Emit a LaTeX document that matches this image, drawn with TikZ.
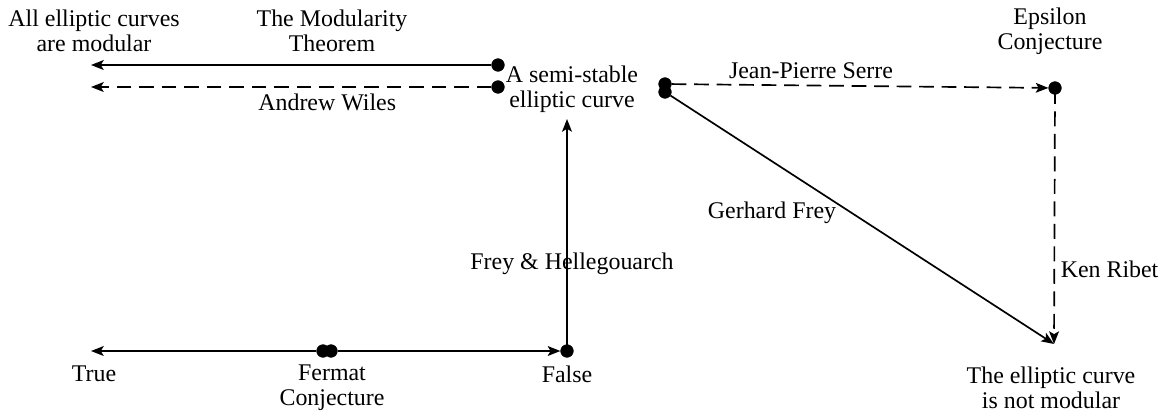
\documentclass[tikz,border=0pt]{standalone}
\usepackage{fontspec}
\setmainfont{Liberation Serif}
\usetikzlibrary{arrows.meta, positioning}
\tikzset{dot/.style={draw=black, fill=black, circle, inner sep=0pt, minimum size=9pt}}
\tikzset{label text/.style={align=center, inner sep=1pt, font=\fontsize{17}{17.8}\selectfont}}
\tikzset{implies/.style={line width=1.2pt, -{Stealth[length=9pt, width=7pt, inset=2pt]}}}
\tikzset{conjectured/.style={implies, dash pattern=on 10.5pt off 5.5pt}}

\begin{document}
\begin{tikzpicture}[x=0.025cm, y=-0.025cm]
\useasboundingbox (0,0) rectangle (1161,416);
% left part
\node[dot] (modthm) at (498,65) {};
\node[dot] (wiles) at (498,87) {};
\coordinate (allsolid) at (91,65);
\coordinate (alldash) at (91,87);
\node[label text] (all) at (94,31) {All elliptic curves\\are modular};
\node[label text] (modname) at (332,31) {The Modularity\\Theorem};
\node[label text] (semi) at (572,89) {A semi-stable\\elliptic curve};
\draw[implies] (modthm) -- (allsolid);
\draw[conjectured] (wiles) -- (alldash) node[label text, pos=0.41, below=3pt] {Andrew Wiles};
% Fermat line
\node[dot] (fermat) at (323,351) {};
\node[dot] (fermat2) at (331,351) {};
\node[dot] (false) at (567,351) {};
\coordinate (true) at (91,351);
\node[label text] (truetxt) at (94,374) {True};
\node[label text] (fermattxt) at (332,388) {Fermat\\Conjecture};
\node[label text] (falsetxt) at (567,374) {False};
\draw[implies] (fermat) -- (true);
\draw[implies] (fermat2) -- (false);
\coordinate (semiin) at (567,119);
\draw[implies, shorten <=-4pt] (false) -- (semiin);
\node[label text] (frey) at (572,264) {Frey \& Hellegouarch};
% right part
\node[dot] (curve) at (665,84) {};
\node[dot] (curve2) at (665,92) {};
\node[dot] (epsilon) at (1055,88) {};
\node[label text] (epstxt) at (1050,31) {Epsilon\\Conjecture};
\coordinate (notmod) at (1054,344);
\node[label text] (notmodtxt) at (1051,388) {The elliptic curve\\is not modular};
\draw[conjectured] (curve) -- (epsilon) node[label text, pos=0.37, above=3pt] {Jean-Pierre Serre};
\draw[conjectured, shorten <=-4pt] (epsilon) -- (notmod) node[label text, pos=0.70, right=3pt] {Ken Ribet};
\draw[implies] (curve2) -- (notmod);
\node[label text] (freytxt) at (772,213) {Gerhard Frey};
\end{tikzpicture}
\end{document}
